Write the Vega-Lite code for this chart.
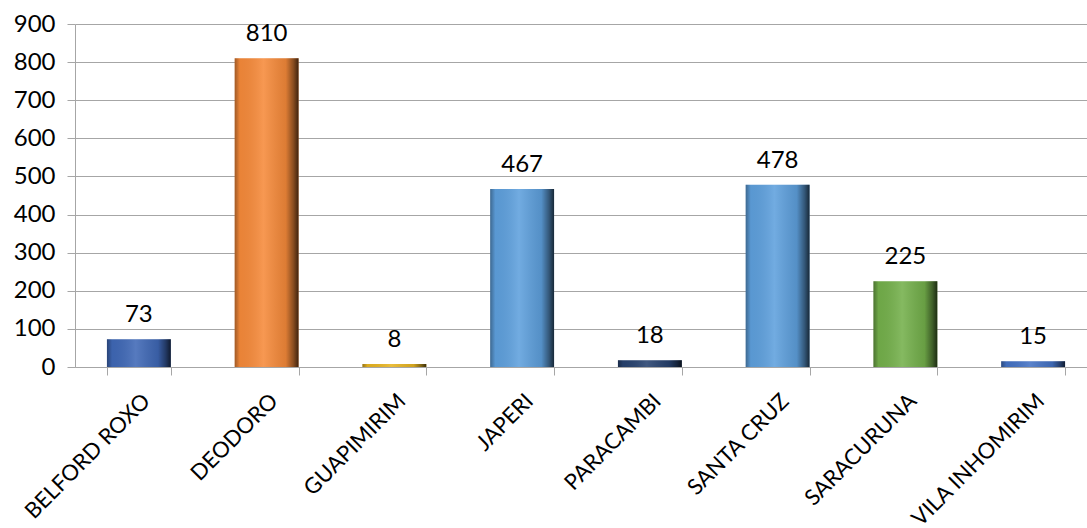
{
  "$schema": "https://vega.github.io/schema/vega-lite/v6.json",
  "autosize": {"type": "none"},
  "padding": {"left": 75, "top": 24, "right": 0, "bottom": 161},
  "width": 1012,
  "height": 343,
  "background": "white",
  "config": {
    "font": "Lato",
    "view": {"stroke": null},
    "axis": {"labelFont": "Lato", "labelFontSize": 24, "labelColor": "#000000", "domainColor": "#a6a6a6", "tickColor": "#a6a6a6", "gridColor": "#a6a6a6", "titleFontSize": 0}
  },
  "data": {
    "values": [
      {"local": "BELFORD ROXO", "total": 73},
      {"local": "DEODORO", "total": 810},
      {"local": "GUAPIMIRIM", "total": 8},
      {"local": "JAPERI", "total": 467},
      {"local": "PARACAMBI", "total": 18},
      {"local": "SANTA CRUZ", "total": 478},
      {"local": "SARACURUNA", "total": 225},
      {"local": "VILA INHOMIRIM", "total": 15}
    ]
  },
  "encoding": {
    "x": {
      "field": "local", "type": "nominal", "sort": null, "title": null,
      "scale": {"range": [0, 1022], "paddingInner": 0.5, "paddingOuter": 0.25},
      "axis": {"labelAngle": -45, "labelFontSize": 22, "tickBand": "extent", "tickSize": 8, "labelPadding": 15, "domainColor": "#a6a6a6", "labelOverlap": false, "labelBound": false, "labelLimit": 0}
    },
    "y": {
      "field": "total", "type": "quantitative", "title": null,
      "scale": {"domain": [0, 900], "nice": false},
      "axis": {"values": [0, 100, 200, 300, 400, 500, 600, 700, 800, 900], "tickSize": 8, "labelPadding": 12, "grid": true, "domainColor": "#a6a6a6"}
    }
  },
  "layer": [
    {
      "mark": {"type": "bar"},
      "encoding": {
        "color": {
          "field": "local", "type": "nominal", "legend": null,
          "scale": {
            "domain": ["BELFORD ROXO", "DEODORO", "GUAPIMIRIM", "JAPERI", "PARACAMBI", "SANTA CRUZ", "SARACURUNA", "VILA INHOMIRIM"],
            "range": ["#3f68b6", "#f68a3a", "#e8b522", "#5ea0dd", "#27426f", "#5ea0dd", "#74b04b", "#4472c4"]
          }
        }
      }
    },
    {
      "mark": {
        "type": "bar",
        "fill": {
          "gradient": "linear", "x1": 0, "x2": 1, "y1": 0, "y2": 0,
          "stops": [
            {"offset": 0, "color": "rgba(0,0,0,0.35)"},
            {"offset": 0.08, "color": "rgba(0,0,0,0.05)"},
            {"offset": 0.45, "color": "rgba(255,255,255,0.12)"},
            {"offset": 0.8, "color": "rgba(0,0,0,0.1)"},
            {"offset": 0.92, "color": "rgba(0,0,0,0.45)"},
            {"offset": 1, "color": "rgba(0,0,0,0.75)"}
          ]
        }
      }
    },
    {
      "mark": {"type": "text", "baseline": "alphabetic", "dy": -17, "fontSize": 24, "font": "Lato", "color": "#000000"},
      "encoding": {"text": {"field": "total", "type": "quantitative"}}
    }
  ]
}
